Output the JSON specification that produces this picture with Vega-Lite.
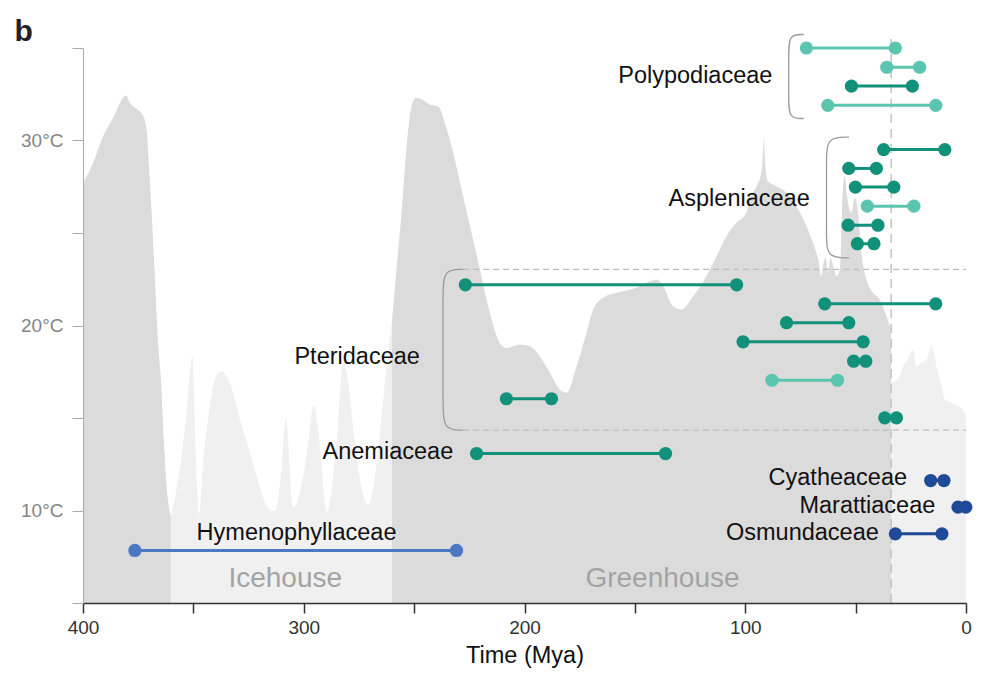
{
  "$schema": "https://vega.github.io/schema/vega-lite/v6.json",
  "width": 883,
  "height": 555,
  "autosize": {"type": "none"},
  "padding": {"left": 83, "top": 48, "right": 34, "bottom": 74},
  "background": "white",
  "config": {"view": {"stroke": null}, "font": "Liberation Sans"},
  "datasets": {
    "curve": [
      {"seg": "A", "climate": "greenhouse", "mya": 400.0, "temp": 27.71},
      {"seg": "A", "climate": "greenhouse", "mya": 395.4, "temp": 28.79},
      {"seg": "A", "climate": "greenhouse", "mya": 390.9, "temp": 30.23},
      {"seg": "A", "climate": "greenhouse", "mya": 386.3, "temp": 31.23},
      {"seg": "A", "climate": "greenhouse", "mya": 380.5, "temp": 32.43},
      {"seg": "A", "climate": "greenhouse", "mya": 378.8, "temp": 32.04},
      {"seg": "A", "climate": "greenhouse", "mya": 375.7, "temp": 31.71},
      {"seg": "A", "climate": "greenhouse", "mya": 372.7, "temp": 31.31},
      {"seg": "A", "climate": "greenhouse", "mya": 371.2, "temp": 30.59},
      {"seg": "A", "climate": "greenhouse", "mya": 370.2, "temp": 28.79},
      {"seg": "A", "climate": "greenhouse", "mya": 368.9, "temp": 26.09},
      {"seg": "A", "climate": "greenhouse", "mya": 367.4, "temp": 22.49},
      {"seg": "A", "climate": "greenhouse", "mya": 365.9, "temp": 18.88},
      {"seg": "A", "climate": "greenhouse", "mya": 364.7, "temp": 17.08},
      {"seg": "A", "climate": "greenhouse", "mya": 363.4, "temp": 13.84},
      {"seg": "A", "climate": "greenhouse", "mya": 362.0, "temp": 11.14},
      {"seg": "A", "climate": "greenhouse", "mya": 360.2, "temp": 9.68},
      {"seg": "B", "climate": "icehouse", "mya": 360.2, "temp": 9.68},
      {"seg": "B", "climate": "icehouse", "mya": 356.2, "temp": 12.22},
      {"seg": "B", "climate": "icehouse", "mya": 353.1, "temp": 15.3},
      {"seg": "B", "climate": "icehouse", "mya": 350.4, "temp": 18.34},
      {"seg": "B", "climate": "icehouse", "mya": 349.3, "temp": 14.38},
      {"seg": "B", "climate": "icehouse", "mya": 348.3, "temp": 11.14},
      {"seg": "B", "climate": "icehouse", "mya": 347.4, "temp": 9.78},
      {"seg": "B", "climate": "icehouse", "mya": 345.6, "temp": 12.59},
      {"seg": "B", "climate": "icehouse", "mya": 342.5, "temp": 15.64},
      {"seg": "B", "climate": "icehouse", "mya": 340.3, "temp": 17.08},
      {"seg": "B", "climate": "icehouse", "mya": 337.2, "temp": 17.53},
      {"seg": "B", "climate": "icehouse", "mya": 333.5, "temp": 16.9},
      {"seg": "B", "climate": "icehouse", "mya": 328.9, "temp": 14.92},
      {"seg": "B", "climate": "icehouse", "mya": 324.4, "temp": 13.12},
      {"seg": "B", "climate": "icehouse", "mya": 319.9, "temp": 11.31},
      {"seg": "B", "climate": "icehouse", "mya": 316.8, "temp": 10.23},
      {"seg": "B", "climate": "icehouse", "mya": 313.1, "temp": 9.96},
      {"seg": "B", "climate": "icehouse", "mya": 310.1, "temp": 12.22},
      {"seg": "B", "climate": "icehouse", "mya": 308.1, "temp": 14.92},
      {"seg": "B", "climate": "icehouse", "mya": 304.8, "temp": 10.15},
      {"seg": "B", "climate": "icehouse", "mya": 298.7, "temp": 12.94},
      {"seg": "B", "climate": "icehouse", "mya": 295.4, "temp": 15.73},
      {"seg": "B", "climate": "icehouse", "mya": 293.5, "temp": 14.38},
      {"seg": "B", "climate": "icehouse", "mya": 289.5, "temp": 9.95},
      {"seg": "B", "climate": "icehouse", "mya": 285.0, "temp": 13.84},
      {"seg": "B", "climate": "icehouse", "mya": 282.2, "temp": 18.0},
      {"seg": "B", "climate": "icehouse", "mya": 280.5, "temp": 17.35},
      {"seg": "B", "climate": "icehouse", "mya": 276.9, "temp": 13.84},
      {"seg": "B", "climate": "icehouse", "mya": 273.7, "temp": 11.14},
      {"seg": "B", "climate": "icehouse", "mya": 270.8, "temp": 10.32},
      {"seg": "B", "climate": "icehouse", "mya": 267.3, "temp": 12.22},
      {"seg": "B", "climate": "icehouse", "mya": 264.9, "temp": 14.92},
      {"seg": "B", "climate": "icehouse", "mya": 262.6, "temp": 17.62},
      {"seg": "B", "climate": "icehouse", "mya": 260.0, "temp": 20.3},
      {"seg": "C", "climate": "greenhouse", "mya": 260.0, "temp": 20.3},
      {"seg": "C", "climate": "greenhouse", "mya": 258.0, "temp": 23.03},
      {"seg": "C", "climate": "greenhouse", "mya": 255.7, "temp": 26.11},
      {"seg": "C", "climate": "greenhouse", "mya": 253.4, "temp": 29.69},
      {"seg": "C", "climate": "greenhouse", "mya": 251.2, "temp": 31.85},
      {"seg": "C", "climate": "greenhouse", "mya": 249.2, "temp": 32.31},
      {"seg": "C", "climate": "greenhouse", "mya": 245.9, "temp": 32.18},
      {"seg": "C", "climate": "greenhouse", "mya": 242.9, "temp": 31.95},
      {"seg": "C", "climate": "greenhouse", "mya": 239.1, "temp": 31.85},
      {"seg": "C", "climate": "greenhouse", "mya": 236.1, "temp": 30.96},
      {"seg": "C", "climate": "greenhouse", "mya": 232.3, "temp": 29.34},
      {"seg": "C", "climate": "greenhouse", "mya": 227.8, "temp": 26.99},
      {"seg": "C", "climate": "greenhouse", "mya": 223.3, "temp": 24.65},
      {"seg": "C", "climate": "greenhouse", "mya": 220.2, "temp": 23.03},
      {"seg": "C", "climate": "greenhouse", "mya": 215.7, "temp": 20.69},
      {"seg": "C", "climate": "greenhouse", "mya": 211.2, "temp": 19.06},
      {"seg": "C", "climate": "greenhouse", "mya": 208.2, "temp": 18.79},
      {"seg": "C", "climate": "greenhouse", "mya": 202.1, "temp": 18.97},
      {"seg": "C", "climate": "greenhouse", "mya": 197.6, "temp": 18.88},
      {"seg": "C", "climate": "greenhouse", "mya": 193.1, "temp": 18.34},
      {"seg": "C", "climate": "greenhouse", "mya": 188.5, "temp": 17.44},
      {"seg": "C", "climate": "greenhouse", "mya": 184.0, "temp": 16.54},
      {"seg": "C", "climate": "greenhouse", "mya": 181.0, "temp": 16.36},
      {"seg": "C", "climate": "greenhouse", "mya": 176.4, "temp": 17.8},
      {"seg": "C", "climate": "greenhouse", "mya": 171.9, "temp": 19.61},
      {"seg": "C", "climate": "greenhouse", "mya": 168.9, "temp": 20.86},
      {"seg": "C", "climate": "greenhouse", "mya": 164.4, "temp": 21.5},
      {"seg": "C", "climate": "greenhouse", "mya": 158.3, "temp": 21.77},
      {"seg": "C", "climate": "greenhouse", "mya": 149.3, "temp": 22.04},
      {"seg": "C", "climate": "greenhouse", "mya": 143.3, "temp": 22.39},
      {"seg": "C", "climate": "greenhouse", "mya": 140.2, "temp": 22.49},
      {"seg": "C", "climate": "greenhouse", "mya": 137.2, "temp": 22.12},
      {"seg": "C", "climate": "greenhouse", "mya": 132.7, "temp": 21.04},
      {"seg": "C", "climate": "greenhouse", "mya": 128.9, "temp": 20.86},
      {"seg": "C", "climate": "greenhouse", "mya": 123.6, "temp": 21.58},
      {"seg": "C", "climate": "greenhouse", "mya": 117.6, "temp": 22.66},
      {"seg": "C", "climate": "greenhouse", "mya": 113.0, "temp": 23.75},
      {"seg": "C", "climate": "greenhouse", "mya": 108.5, "temp": 24.83},
      {"seg": "C", "climate": "greenhouse", "mya": 104.0, "temp": 25.55},
      {"seg": "C", "climate": "greenhouse", "mya": 99.5, "temp": 26.09},
      {"seg": "C", "climate": "greenhouse", "mya": 98.0, "temp": 26.81},
      {"seg": "C", "climate": "greenhouse", "mya": 94.9, "temp": 27.53},
      {"seg": "C", "climate": "greenhouse", "mya": 93.1, "temp": 28.07},
      {"seg": "C", "climate": "greenhouse", "mya": 92.2, "temp": 28.79},
      {"seg": "C", "climate": "greenhouse", "mya": 91.6, "temp": 30.05},
      {"seg": "C", "climate": "greenhouse", "mya": 91.0, "temp": 28.79},
      {"seg": "C", "climate": "greenhouse", "mya": 89.7, "temp": 27.8},
      {"seg": "C", "climate": "greenhouse", "mya": 85.9, "temp": 27.53},
      {"seg": "C", "climate": "greenhouse", "mya": 81.3, "temp": 27.17},
      {"seg": "C", "climate": "greenhouse", "mya": 76.8, "temp": 26.45},
      {"seg": "C", "climate": "greenhouse", "mya": 72.3, "temp": 25.37},
      {"seg": "C", "climate": "greenhouse", "mya": 69.3, "temp": 24.47},
      {"seg": "C", "climate": "greenhouse", "mya": 67.0, "temp": 23.57},
      {"seg": "C", "climate": "greenhouse", "mya": 65.5, "temp": 22.66},
      {"seg": "C", "climate": "greenhouse", "mya": 64.8, "temp": 23.21},
      {"seg": "C", "climate": "greenhouse", "mya": 63.5, "temp": 23.66},
      {"seg": "C", "climate": "greenhouse", "mya": 62.5, "temp": 22.85},
      {"seg": "C", "climate": "greenhouse", "mya": 61.4, "temp": 23.66},
      {"seg": "C", "climate": "greenhouse", "mya": 60.2, "temp": 23.21},
      {"seg": "C", "climate": "greenhouse", "mya": 58.7, "temp": 22.66},
      {"seg": "C", "climate": "greenhouse", "mya": 57.2, "temp": 23.03},
      {"seg": "C", "climate": "greenhouse", "mya": 55.7, "temp": 27.53},
      {"seg": "C", "climate": "greenhouse", "mya": 54.9, "temp": 28.07},
      {"seg": "C", "climate": "greenhouse", "mya": 53.9, "temp": 26.99},
      {"seg": "C", "climate": "greenhouse", "mya": 51.9, "temp": 26.09},
      {"seg": "C", "climate": "greenhouse", "mya": 50.4, "temp": 26.9},
      {"seg": "C", "climate": "greenhouse", "mya": 48.9, "temp": 26.09},
      {"seg": "C", "climate": "greenhouse", "mya": 47.4, "temp": 23.93},
      {"seg": "C", "climate": "greenhouse", "mya": 45.1, "temp": 22.49},
      {"seg": "C", "climate": "greenhouse", "mya": 42.1, "temp": 21.77},
      {"seg": "C", "climate": "greenhouse", "mya": 39.1, "temp": 21.41},
      {"seg": "C", "climate": "greenhouse", "mya": 36.8, "temp": 20.76},
      {"seg": "C", "climate": "greenhouse", "mya": 33.9, "temp": 19.78},
      {"seg": "D", "climate": "icehouse", "mya": 33.9, "temp": 16.92},
      {"seg": "D", "climate": "icehouse", "mya": 30.8, "temp": 17.08},
      {"seg": "D", "climate": "icehouse", "mya": 28.5, "temp": 17.8},
      {"seg": "D", "climate": "icehouse", "mya": 26.3, "temp": 18.16},
      {"seg": "D", "climate": "icehouse", "mya": 24.0, "temp": 18.7},
      {"seg": "D", "climate": "icehouse", "mya": 22.5, "temp": 17.8},
      {"seg": "D", "climate": "icehouse", "mya": 20.2, "temp": 17.98},
      {"seg": "D", "climate": "icehouse", "mya": 17.9, "temp": 18.16},
      {"seg": "D", "climate": "icehouse", "mya": 15.7, "temp": 18.88},
      {"seg": "D", "climate": "icehouse", "mya": 14.6, "temp": 18.52},
      {"seg": "D", "climate": "icehouse", "mya": 13.4, "temp": 17.8},
      {"seg": "D", "climate": "icehouse", "mya": 11.1, "temp": 16.72},
      {"seg": "D", "climate": "icehouse", "mya": 9.6, "temp": 16.0},
      {"seg": "D", "climate": "icehouse", "mya": 6.6, "temp": 15.82},
      {"seg": "D", "climate": "icehouse", "mya": 3.6, "temp": 15.64},
      {"seg": "D", "climate": "icehouse", "mya": 1.4, "temp": 15.46},
      {"seg": "D", "climate": "icehouse", "mya": 0.0, "temp": 15.1}
    ],
    "ends": [
      {"fam": "Poly1", "shade": "light", "mya": 72.3, "temp": 35.0},
      {"fam": "Poly1", "shade": "light", "mya": 32.0, "temp": 35.0},
      {"fam": "Poly2", "shade": "light", "mya": 35.9, "temp": 33.96},
      {"fam": "Poly2", "shade": "light", "mya": 21.0, "temp": 33.96},
      {"fam": "Poly3", "shade": "dark", "mya": 51.9, "temp": 32.94},
      {"fam": "Poly3", "shade": "dark", "mya": 24.3, "temp": 32.94},
      {"fam": "Poly4", "shade": "light", "mya": 62.6, "temp": 31.9},
      {"fam": "Poly4", "shade": "light", "mya": 13.7, "temp": 31.9},
      {"fam": "Asp1", "shade": "dark", "mya": 37.3, "temp": 29.51},
      {"fam": "Asp1", "shade": "dark", "mya": 9.6, "temp": 29.51},
      {"fam": "Asp2", "shade": "dark", "mya": 53.1, "temp": 28.49},
      {"fam": "Asp2", "shade": "dark", "mya": 40.6, "temp": 28.49},
      {"fam": "Asp3", "shade": "dark", "mya": 50.1, "temp": 27.48},
      {"fam": "Asp3", "shade": "dark", "mya": 32.7, "temp": 27.48},
      {"fam": "Asp4", "shade": "light", "mya": 44.7, "temp": 26.45},
      {"fam": "Asp4", "shade": "light", "mya": 23.6, "temp": 26.45},
      {"fam": "Asp5", "shade": "dark", "mya": 53.4, "temp": 25.42},
      {"fam": "Asp5", "shade": "dark", "mya": 39.9, "temp": 25.42},
      {"fam": "Asp6", "shade": "dark", "mya": 49.2, "temp": 24.42},
      {"fam": "Asp6", "shade": "dark", "mya": 41.7, "temp": 24.42},
      {"fam": "Pter1", "shade": "dark", "mya": 226.8, "temp": 22.2},
      {"fam": "Pter1", "shade": "dark", "mya": 103.9, "temp": 22.2},
      {"fam": "Pter2", "shade": "dark", "mya": 64.0, "temp": 21.17},
      {"fam": "Pter2", "shade": "dark", "mya": 13.7, "temp": 21.17},
      {"fam": "Pter3", "shade": "dark", "mya": 81.3, "temp": 20.15},
      {"fam": "Pter3", "shade": "dark", "mya": 53.1, "temp": 20.15},
      {"fam": "Pter4", "shade": "dark", "mya": 101.0, "temp": 19.12},
      {"fam": "Pter4", "shade": "dark", "mya": 46.6, "temp": 19.12},
      {"fam": "Pter5", "shade": "dark", "mya": 50.9, "temp": 18.07},
      {"fam": "Pter5", "shade": "dark", "mya": 45.4, "temp": 18.07},
      {"fam": "Pter6", "shade": "light", "mya": 87.9, "temp": 17.04},
      {"fam": "Pter6", "shade": "light", "mya": 58.2, "temp": 17.04},
      {"fam": "Pter7", "shade": "dark", "mya": 208.2, "temp": 16.04},
      {"fam": "Pter7", "shade": "dark", "mya": 187.8, "temp": 16.04},
      {"fam": "Pter8", "shade": "dark", "mya": 36.8, "temp": 15.01},
      {"fam": "Pter8", "shade": "dark", "mya": 31.5, "temp": 15.01},
      {"fam": "Anemiaceae", "shade": "dark", "mya": 221.7, "temp": 13.08},
      {"fam": "Anemiaceae", "shade": "dark", "mya": 136.1, "temp": 13.08},
      {"fam": "Cyatheaceae", "shade": "navy", "mya": 16.0, "temp": 11.62},
      {"fam": "Cyatheaceae", "shade": "navy", "mya": 10.0, "temp": 11.62},
      {"fam": "Marattiaceae", "shade": "navy", "mya": 3.6, "temp": 10.18},
      {"fam": "Marattiaceae", "shade": "navy", "mya": 0.1, "temp": 10.18},
      {"fam": "Osmundaceae", "shade": "navy", "mya": 32.0, "temp": 8.74},
      {"fam": "Osmundaceae", "shade": "navy", "mya": 10.9, "temp": 8.74},
      {"fam": "Hymenophyllaceae", "shade": "blue", "mya": 376.5, "temp": 7.84},
      {"fam": "Hymenophyllaceae", "shade": "blue", "mya": 230.8, "temp": 7.84}
    ],
    "brackets": [
      {"grp": "Poly", "ord": 1, "mya": 73.5, "temp": 35.73},
      {"grp": "Poly", "ord": 2, "mya": 80.3, "temp": 35.73},
      {"grp": "Poly", "ord": 3, "mya": 80.3, "temp": 34.7},
      {"grp": "Poly", "ord": 4, "mya": 80.3, "temp": 32.2},
      {"grp": "Poly", "ord": 5, "mya": 80.3, "temp": 31.19},
      {"grp": "Poly", "ord": 6, "mya": 73.5, "temp": 31.19},
      {"grp": "Asp", "ord": 1, "mya": 53.0, "temp": 30.18},
      {"grp": "Asp", "ord": 2, "mya": 63.2, "temp": 30.18},
      {"grp": "Asp", "ord": 3, "mya": 63.2, "temp": 28.9},
      {"grp": "Asp", "ord": 4, "mya": 63.2, "temp": 24.9},
      {"grp": "Asp", "ord": 5, "mya": 63.2, "temp": 23.66},
      {"grp": "Asp", "ord": 6, "mya": 53.0, "temp": 23.66},
      {"grp": "Pter", "ord": 1, "mya": 227.8, "temp": 23.03},
      {"grp": "Pter", "ord": 2, "mya": 236.9, "temp": 23.03},
      {"grp": "Pter", "ord": 3, "mya": 236.9, "temp": 21.6},
      {"grp": "Pter", "ord": 4, "mya": 236.9, "temp": 15.8},
      {"grp": "Pter", "ord": 5, "mya": 236.9, "temp": 14.34},
      {"grp": "Pter", "ord": 6, "mya": 227.8, "temp": 14.34}
    ],
    "boxdash": [
      {"mya": 227.8, "mya2": 0, "temp": 23.03},
      {"mya": 227.8, "mya2": 0, "temp": 14.34}
    ],
    "boundary": [
      {"mya": 33.9, "temp": 5, "temp2": 35.8}
    ],
    "labels": [
      {"label": "Polypodiaceae", "mya": 87.7, "temp": 33.12},
      {"label": "Aspleniaceae", "mya": 70.8, "temp": 26.45},
      {"label": "Pteridaceae", "mya": 247.4, "temp": 17.93},
      {"label": "Anemiaceae", "mya": 232.3, "temp": 12.81},
      {"label": "Hymenophyllaceae", "mya": 258.0, "temp": 8.39},
      {"label": "Cyatheaceae", "mya": 26.7, "temp": 11.37},
      {"label": "Marattiaceae", "mya": 13.9, "temp": 9.89},
      {"label": "Osmundaceae", "mya": 39.5, "temp": 8.43}
    ],
    "periods": [
      {"label": "Icehouse", "mya": 308.4, "temp": 5.88},
      {"label": "Greenhouse", "mya": 137.5, "temp": 5.88}
    ],
    "panel": [
      {"label": "b", "mya": 431.0, "temp": 35.37}
    ]
  },
  "encoding": {
    "x": {
      "field": "mya", "type": "quantitative",
      "scale": {"domain": [0, 400], "reverse": true, "nice": false, "zero": false},
      "axis": {
        "title": "Time (Mya)", "values": [400, 350, 300, 250, 200, 150, 100, 50, 0],
        "format": "d", "labelExpr": "datum.value % 100 === 0 ? datum.label : ''",
        "grid": false, "labelFlush": false, "domainColor": "#333333", "domainWidth": 1.5,
        "tickColor": "#333333", "tickWidth": 1.5, "tickSize": 10, "labelFontSize": 19,
        "labelColor": "#333333", "labelPadding": 5, "titleFontSize": 23.5, "titleColor": "#111111",
        "titleFontWeight": "normal", "titlePadding": 6, "zindex": 1, "labelFont": "Liberation Sans", "titleFont": "Liberation Sans"
      }
    },
    "y": {
      "field": "temp", "type": "quantitative", "stack": null,
      "scale": {"domain": [5, 35], "nice": false, "zero": false},
      "axis": {
        "title": null, "values": [5, 10, 15, 20, 25, 30, 35],
        "labelExpr": "datum.value % 10 === 0 ? datum.value + '°C' : ''",
        "grid": false, "labelFlush": false, "domainColor": "#aaaaaa", "tickColor": "#aaaaaa",
        "tickSize": 11, "labelFontSize": 19, "labelColor": "#858585", "labelPadding": 9, "zindex": 1, "labelFont": "Liberation Sans"
      }
    }
  },
  "layer": [
    {
      "data": {"name": "curve"},
      "mark": {"type": "area", "interpolate": "monotone"},
      "encoding": {
        "y2": {"datum": 5},
        "fill": {"field": "climate", "type": "nominal", "scale": {"domain": ["greenhouse", "icehouse"], "range": ["#dcdbdc", "#f1f0f1"]}, "legend": null},
        "detail": {"field": "seg"}
      }
    },
    {
      "data": {"name": "boundary"},
      "mark": {"type": "rule", "color": "#c4c4c4", "strokeWidth": 1.5, "strokeDash": [9, 6]},
      "encoding": {"y2": {"field": "temp2"}}
    },
    {
      "data": {"name": "boxdash"},
      "mark": {"type": "rule", "color": "#bdbdbd", "strokeWidth": 1.2, "strokeDash": [6, 4]},
      "encoding": {"x2": {"field": "mya2"}}
    },
    {
      "data": {"name": "brackets"},
      "mark": {"type": "line", "interpolate": "basis", "color": "#9a9a9a", "strokeWidth": 1.3},
      "encoding": {"detail": {"field": "grp"}, "order": {"field": "ord"}}
    },
    {
      "data": {"name": "ends"},
      "mark": {"type": "line", "strokeWidth": 3},
      "encoding": {
        "detail": {"field": "fam"},
        "color": {"field": "shade", "type": "nominal", "scale": {"domain": ["light", "dark", "navy", "blue"], "range": ["#5cc5b0", "#12917a", "#1f4a98", "#4a78c2"]}, "legend": null}
      }
    },
    {
      "data": {"name": "ends"},
      "mark": {"type": "circle", "size": 175, "opacity": 1},
      "encoding": {
        "color": {"field": "shade", "type": "nominal", "scale": {"domain": ["light", "dark", "navy", "blue"], "range": ["#5cc5b0", "#12917a", "#1f4a98", "#4a78c2"]}, "legend": null}
      }
    },
    {
      "data": {"name": "labels"},
      "mark": {"type": "text", "align": "right", "baseline": "alphabetic", "fontSize": 23.5, "color": "#111111", "font": "Liberation Sans"},
      "encoding": {"text": {"field": "label"}}
    },
    {
      "data": {"name": "periods"},
      "mark": {"type": "text", "align": "center", "baseline": "alphabetic", "fontSize": 28, "color": "#a3a3a3", "font": "Liberation Sans"},
      "encoding": {"text": {"field": "label"}}
    },
    {
      "data": {"name": "panel"},
      "mark": {"type": "text", "align": "left", "baseline": "alphabetic", "fontSize": 30, "fontWeight": "bold", "color": "#222222", "font": "Liberation Sans"},
      "encoding": {"text": {"field": "label"}}
    }
  ]
}
